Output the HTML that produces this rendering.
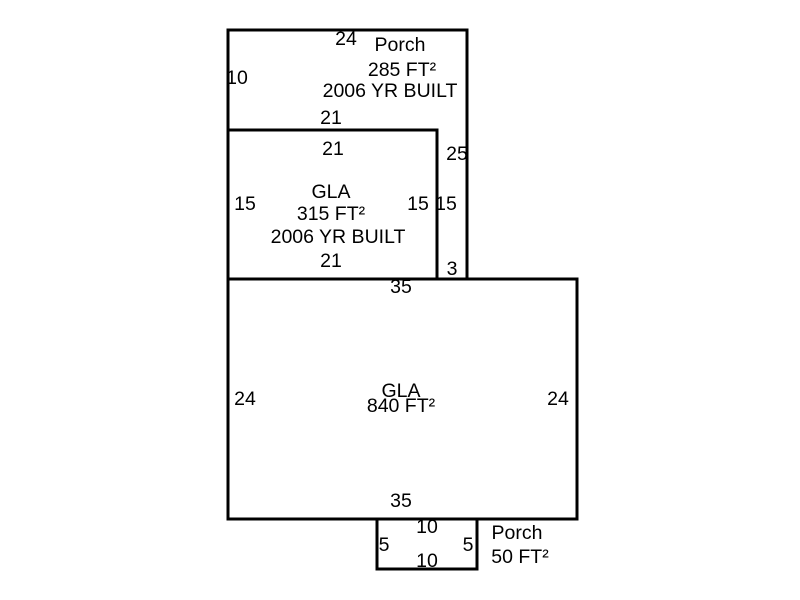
<!DOCTYPE html>
<html><head><style>body{margin:0;background:#fff}svg{display:block}</style></head><body>
<svg width="800" height="600" xmlns="http://www.w3.org/2000/svg" font-family="Liberation Sans, Arial, sans-serif" font-size="19.5" fill="#000">
<g fill="none" stroke="#000" stroke-width="3">
<rect x="228" y="30" width="239" height="249"/>
<rect x="228" y="130" width="209" height="149"/>
<rect x="228" y="279" width="349" height="240"/>
<rect x="377" y="519" width="100" height="50"/>
</g>
<g text-anchor="middle" dominant-baseline="central">
<text x="346" y="39">24</text>
<text x="400" y="45">Porch</text>
<text x="402" y="70">285 FT²</text>
<text x="390" y="91">2006 YR BUILT</text>
<text x="237" y="78">10</text>
<text x="331" y="118">21</text>
<text x="333" y="149">21</text>
<text x="457" y="154">25</text>
<text x="245" y="204">15</text>
<text x="331" y="192">GLA</text>
<text x="331" y="214">315 FT²</text>
<text x="338" y="237">2006 YR BUILT</text>
<text x="418" y="204">15</text>
<text x="446" y="204">15</text>
<text x="331" y="261">21</text>
<text x="452" y="269">3</text>
<text x="401" y="287">35</text>
<text x="245" y="399">24</text>
<text x="401" y="391">GLA</text>
<text x="401" y="406">840 FT²</text>
<text x="558" y="399">24</text>
<text x="401" y="501">35</text>
<text x="427" y="527">10</text>
<text x="384" y="545">5</text>
<text x="468" y="545">5</text>
<text x="427" y="561">10</text>
<text x="517" y="533">Porch</text>
<text x="520" y="557">50 FT²</text>
</g>
</svg>
</body></html>
